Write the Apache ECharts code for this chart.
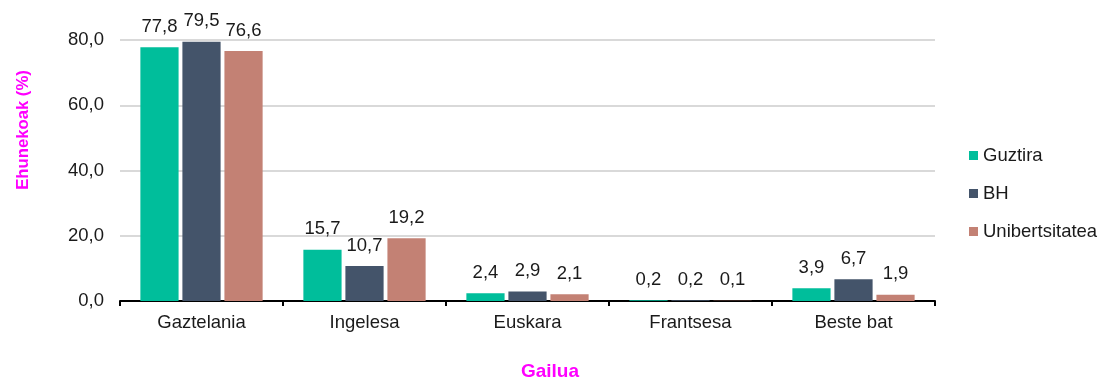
<!DOCTYPE html>
<html>
<head>
<meta charset="utf-8">
<script src="https://cdn.jsdelivr.net/npm/echarts@6/dist/echarts.min.js"></script>
<style>
  html, body { margin: 0; padding: 0; background: #fff; }
</style>
</head>
<body>
<div id="chart" style="width:1098px;height:380px;"></div>
<script>
// categories (languages) and series values
var categories = ['Gaztelania', 'Ingelesa', 'Euskara', 'Frantsesa', 'Beste bat'];
var guztira = [77.8, 15.7, 2.4, 0.2, 3.9];
var bh = [79.5, 10.7, 2.9, 0.2, 6.7];
var unibertsitatea = [76.6, 19.2, 2.1, 0.1, 1.9];
var seriesNames = ['Guztira', 'BH', 'Unibertsitatea'];
var yTicks = [0, 20, 40, 60, 80];

var colors = ['#00BE9B', '#44546A', '#C38174'];
var fontFamily = 'Liberation Sans, Arial, sans-serif';
var fs = 18.5;

function comma(v) {
  return v.toFixed(1).replace('.', ',');
}

function makeSeries(name, data, color) {
  return {
    name: name,
    type: 'bar',
    data: data,
    barGap: '10%',
    barCategoryGap: '25%',
    itemStyle: { color: color },
    label: {
      show: true,
      position: 'top',
      distance: 11,
      color: '#1a1a1a',
      fontSize: fs,
      fontFamily: fontFamily,
      formatter: function (p) { return comma(p.value); }
    }
  };
}

var chart = echarts.init(document.getElementById('chart'));
chart.setOption({
  animation: false,
  textStyle: { fontFamily: fontFamily },
  graphic: [
    {
      type: 'text',
      x: 550,
      y: 372,
      style: {
        text: 'Gailua',
        fill: '#FF00FF',
        font: 'bold 19px ' + fontFamily,
        textAlign: 'center',
        textVerticalAlign: 'middle'
      }
    },
    {
      type: 'text',
      x: 23,
      y: 130,
      rotation: Math.PI / 2,
      style: {
        text: 'Ehunekoak (%)',
        fill: '#FF00FF',
        font: 'bold 16.7px ' + fontFamily,
        textAlign: 'center',
        textVerticalAlign: 'middle'
      }
    }
  ],
  legend: {
    orient: 'vertical',
    left: 964,
    top: 141,
    itemWidth: 9,
    itemHeight: 9,
    itemGap: 19,
    icon: 'rect',
    data: seriesNames,
    textStyle: { fontSize: fs, color: '#1a1a1a', fontFamily: fontFamily }
  },
  grid: {
    left: 120,
    right: 163,
    top: 40,
    bottom: 79,
    containLabel: false
  },
  xAxis: {
    type: 'category',
    data: categories,
    axisLine: { lineStyle: { color: '#000', width: 2 } },
    axisTick: { show: true, length: 5, lineStyle: { color: '#000', width: 2 } },
    axisLabel: { color: '#1a1a1a', fontSize: fs, margin: 12, fontFamily: fontFamily }
  },
  yAxis: {
    type: 'value',
    min: yTicks[0],
    max: yTicks[yTicks.length - 1],
    interval: 20,
    axisLine: { show: false },
    axisTick: { show: false },
    splitLine: { lineStyle: { color: '#D9D9D9', width: 2 } },
    axisLabel: {
      color: '#1a1a1a',
      fontSize: fs,
      margin: 16,
      fontFamily: fontFamily,
      formatter: function (v) { return comma(v); }
    }
  },
  series: [
    makeSeries(seriesNames[0], guztira, colors[0]),
    makeSeries(seriesNames[1], bh, colors[1]),
    makeSeries(seriesNames[2], unibertsitatea, colors[2])
  ]
});
</script>
</body>
</html>
